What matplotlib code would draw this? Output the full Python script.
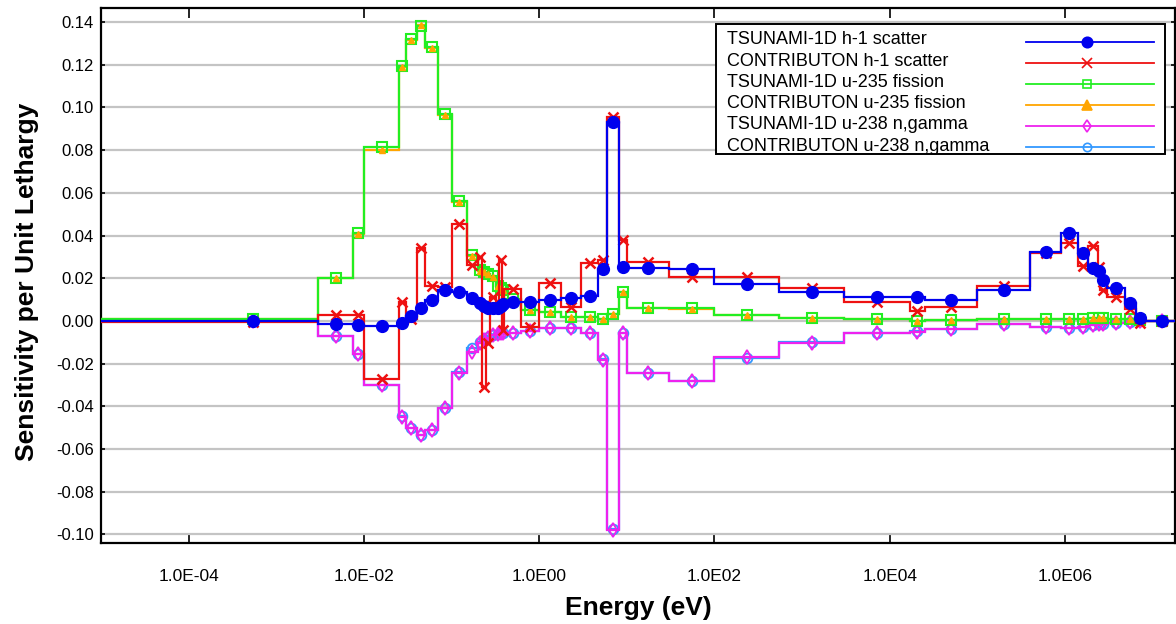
import numpy as np
import matplotlib
matplotlib.use("Agg")
import matplotlib.pyplot as plt
from matplotlib.lines import Line2D
from matplotlib.patches import Rectangle

plt.rcParams["font.family"] = ["Liberation Sans", "DejaVu Sans"]

# 44-group energy boundaries (eV), ascending
edges = [1e-5, 3e-3, 7.5e-3, 1e-2, 2.53e-2, 3e-2, 4e-2, 5e-2, 7e-2, 0.1,
         0.15, 0.2, 0.225, 0.25, 0.275, 0.325, 0.35, 0.375, 0.4, 0.625,
         1.0, 1.77, 3.0, 4.75, 6.0, 8.1, 10.0, 30.0, 100.0, 550.0,
         3e3, 1.7e4, 2.5e4, 1e5, 4e5, 9e5, 1.4e6, 1.85e6, 2.354e6, 2.479e6,
         3e6, 4.8e6, 6.434e6, 8.187e6, 2e7]
marker_floor = 1e-4  # lower energy used for the first group's marker

tsunami_h1 = [0.0001, -0.0015, -0.0020, -0.0022, -0.0008, 0.0023, 0.0060, 0.0100, 0.0145, 0.0137,
              0.0106, 0.0086, 0.0070, 0.0062, 0.0060, 0.0060, 0.0070, 0.0078, 0.0090, 0.0090,
              0.0098, 0.0106, 0.0117, 0.0242, 0.0931, 0.0254, 0.0250, 0.0242, 0.0174, 0.0137,
              0.0114, 0.0114, 0.0098, 0.0145, 0.0324, 0.0410, 0.0317, 0.0250, 0.0235, 0.0190,
              0.0156, 0.0086, 0.0016, 0.0001]
contrib_h1 = [-0.0006, 0.0028, 0.0028, -0.0271, 0.0088, 0.0010, 0.0343, 0.0164, 0.0160, 0.0454,
              0.0262, 0.0300, -0.0310, -0.0104, 0.0114, 0.0060, 0.0285, -0.0040, 0.0148, -0.0027,
              0.0180, 0.0066, 0.0273, 0.0285, 0.0954, 0.0379, 0.0277, 0.0207, 0.0205, 0.0156,
              0.0090, 0.0047, 0.0067, 0.0164, 0.0317, 0.0366, 0.0257, 0.0351, 0.0254, 0.0145,
              0.0110, 0.0055, -0.0010, 0.0001]
tsunami_u235 = [0.0008, 0.0201, 0.0410, 0.0816, 0.1193, 0.1319, 0.1382, 0.1282, 0.0968, 0.0560,
                0.0310, 0.0239, 0.0230, 0.0220, 0.0210, 0.0164, 0.0155, 0.0145, 0.0102, 0.0051,
                0.0043, 0.0019, 0.0020, 0.0010, 0.0033, 0.0136, 0.0060, 0.0059, 0.0028, 0.0013,
                0.0008, 0.0002, 0.0004, 0.0008, 0.0008, 0.0008, 0.0010, 0.0015, 0.0015, 0.0013,
                0.0008, 0.0008, 0.0005, 0.0001]
contrib_u235 = [0.0008, 0.0200, 0.0408, 0.0800, 0.1190, 0.1318, 0.1385, 0.1280, 0.0966, 0.0555,
                0.0305, 0.0236, 0.0228, 0.0218, 0.0208, 0.0162, 0.0153, 0.0143, 0.0100, 0.0050,
                0.0042, 0.0018, 0.0019, 0.0010, 0.0032, 0.0135, 0.0059, 0.0058, 0.0027, 0.0013,
                0.0008, 0.0002, 0.0004, 0.0008, 0.0008, 0.0008, 0.0010, 0.0014, 0.0014, 0.0012,
                0.0008, 0.0008, 0.0005, 0.0001]
tsunami_u238 = [0.0000, -0.0070, -0.0156, -0.0300, -0.0448, -0.0500, -0.0533, -0.0510, -0.0408, -0.0242,
                -0.0144, -0.0104, -0.0088, -0.0078, -0.0068, -0.0062, -0.0058, -0.0056, -0.0055, -0.0047,
                -0.0034, -0.0034, -0.0055, -0.0182, -0.0978, -0.0058, -0.0245, -0.0280, -0.0170, -0.0101,
                -0.0055, -0.0050, -0.0039, -0.0015, -0.0030, -0.0034, -0.0030, -0.0020, -0.0015, -0.0015,
                -0.0010, -0.0005, -0.0002, 0.0000]
contrib_u238 = [0.0000, -0.0070, -0.0155, -0.0300, -0.0447, -0.0500, -0.0532, -0.0510, -0.0407, -0.0240,
                -0.0128, -0.0098, -0.0086, -0.0077, -0.0067, -0.0061, -0.0057, -0.0055, -0.0054, -0.0046,
                -0.0034, -0.0033, -0.0054, -0.0180, -0.0975, -0.0057, -0.0244, -0.0279, -0.0172, -0.0100,
                -0.0054, -0.0049, -0.0038, -0.0015, -0.0029, -0.0033, -0.0029, -0.0020, -0.0015, -0.0015,
                -0.0010, -0.0005, -0.0002, 0.0000]

labels = ["TSUNAMI-1D h-1 scatter", "CONTRIBUTON h-1 scatter",
          "TSUNAMI-1D u-235 fission", "CONTRIBUTON u-235 fission",
          "TSUNAMI-1D u-238 n,gamma", "CONTRIBUTON u-238 n,gamma"]
x_tick_values = [1e-4, 1e-2, 1e0, 1e2, 1e4, 1e6]
x_tick_labels = ["1.0E-04", "1.0E-02", "1.0E00", "1.0E02", "1.0E04", "1.0E06"]
y_tick_values = [-0.10, -0.08, -0.06, -0.04, -0.02, 0.00, 0.02, 0.04, 0.06, 0.08, 0.10, 0.12, 0.14]

series = [tsunami_h1, contrib_h1, tsunami_u235, contrib_u235, tsunami_u238, contrib_u238]
# (color, marker, size, filled, edge width, line zorder, marker zorder, legend marker size)
styles = [
    ("#0000ee", "o", 8.5, True, 1.0, 8, 8.5, 7.5),
    ("#ee1111", "x", 7.5, True, 1.8, 7, 7.5, 7),
    ("#22ee22", "s", 7.0, False, 1.5, 6, 6.5, 6),
    ("#ffa500", "^", 5.0, True, 1.0, 5, 6.6, 6.5),
    ("#ee22ee", "d", 7.0, False, 1.3, 4, 4.5, 6),
    ("#3399ff", "o", 7.0, False, 1.3, 3, 3.5, 6),
]

edges = np.array(edges)
lo = edges[:-1].copy()
lo[0] = marker_floor
mids = np.sqrt(lo * edges[1:])

W, H = 1176, 624
fig = plt.figure(figsize=(W / 100, H / 100), dpi=100)
ax = fig.add_axes([101 / W, 81 / H, 1074 / W, 535 / H])

for vals, (c, m, ms, filled, mew, zl, zm, lms) in zip(series, styles):
    ax.stairs(vals, edges, baseline=None, color=c, lw=1.6, zorder=zl)
    ax.plot(mids, vals, ls="none", marker=m, ms=ms, mfc=c if filled else "none",
            mec=c, mew=mew, zorder=zm)

ax.set_xscale("log")
ax.set_xlim(1e-5, 1.8e7)
ax.set_ylim(-0.104, 0.1466)
ax.set_xticks(x_tick_values)
ax.set_xticklabels(x_tick_labels, fontsize=12.5)
ax.xaxis.set_minor_locator(matplotlib.ticker.NullLocator())
ax.set_yticks(y_tick_values)
ax.set_yticklabels(["%.2f" % v for v in y_tick_values], fontsize=12)
ax.tick_params(axis="x", direction="in", length=7, width=1.2, top=True, pad=19)
ax.tick_params(axis="y", direction="in", length=3, width=1.2, right=True, pad=5)
ax.grid(axis="y", color="#c4c4c4", lw=1.6)
ax.set_axisbelow(True)
for sp in ax.spines.values():
    sp.set_linewidth(1.6)

ax.set_xlabel("Energy (eV)", fontsize=19, fontweight="bold")
ax.xaxis.set_label_coords(0.5, -0.1)
ax.set_ylabel("Sensitivity per Unit Lethargy", fontsize=19, fontweight="bold")
ax.yaxis.set_label_coords(-0.058, 0.488)

# legend drawn by hand: labels left-aligned, line samples aligned on the right
box_l, box_r, box_t, box_b = 716, 1165, 24, 154
fig.add_artist(Rectangle((box_l / W, 1 - box_b / H), (box_r - box_l) / W, (box_b - box_t) / H,
                         transform=fig.transFigure, facecolor="white", edgecolor="black",
                         lw=1.4, zorder=20))
row0, row_step = 40.0, 21.2
for i, (lab, (c, m, ms, filled, mew, zl, zm, lms)) in enumerate(zip(labels, styles)):
    yy = 1 - (row0 + i * row_step) / H
    fig.text(727 / W, yy, lab, fontsize=13, va="center", ha="left", zorder=21)
    yl = 1 - (row0 + 1.5 + i * row_step) / H
    fig.add_artist(Line2D([1026 / W, 1154 / W], [yl, yl], transform=fig.transFigure,
                          color=c, lw=1.3, zorder=21))
    fig.add_artist(Line2D([1087 / W], [yl], transform=fig.transFigure, ls="none",
                          marker=m, ms=lms, mfc=c if filled else "none", mec=c,
                          mew=1.2, zorder=22))

fig.savefig("out.png", dpi=100)
